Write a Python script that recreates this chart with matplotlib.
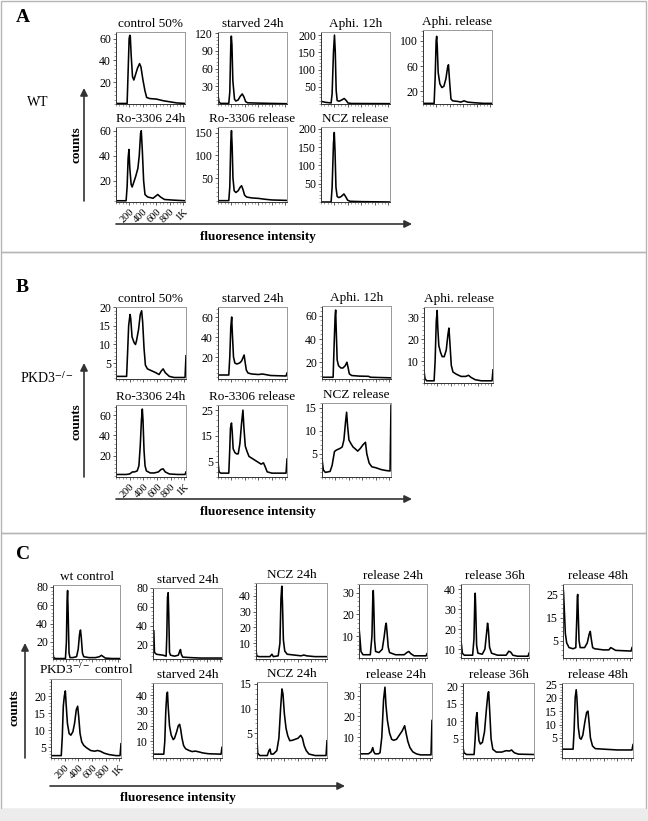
import matplotlib
matplotlib.use('Agg')
import matplotlib.pyplot as plt
from matplotlib.patches import Rectangle, FancyArrowPatch
from matplotlib.ticker import MultipleLocator, AutoMinorLocator

plt.rcParams['font.family'] = ['Liberation Serif', 'DejaVu Serif']
plt.rcParams['mathtext.fontset'] = 'stix'

# ---- histogram data: (fluorescence, counts) ----
# panel A, WT
a_control = [(0, 0.5), (165, 0.5), (180, 30), (195, 60), (205, 63), (212, 62), (225, 45), (245, 25), (265, 22),
             (290, 27), (320, 33), (350, 37), (370, 34), (400, 22), (430, 12), (455, 6), (500, 5), (600, 4.5),
             (700, 3), (800, 2), (900, 1), (1024, 0.5)]
a_starved = [(0, 15), (15, 3), (40, 1), (160, 1), (175, 20), (190, 100), (198, 115), (207, 100), (220, 40),
             (245, 8), (265, 5), (300, 7), (330, 13), (360, 17), (385, 12), (410, 4), (440, 2), (600, 1.5),
             (800, 1), (1024, 0.5)]
a_aphi = [(0, 8), (60, 5), (150, 3), (165, 30), (185, 150), (200, 200), (212, 150), (225, 40), (240, 10),
          (270, 8), (310, 12), (345, 16), (375, 10), (400, 3), (450, 1.5), (1024, 1)]
a_aphi_rel = [(0, 1), (165, 1), (180, 40), (195, 100), (203, 107), (212, 90), (225, 50), (250, 32), (280, 26),
              (310, 28), (340, 40), (365, 58), (378, 62), (395, 35), (415, 8), (440, 5), (520, 4), (560, 3),
              (610, 5), (660, 3), (760, 2), (900, 1), (1024, 1)]
a_ro = [(0, 4), (150, 4), (165, 15), (180, 38), (192, 45), (205, 30), (225, 17), (240, 15), (265, 19), (295, 24),
        (325, 30), (345, 40), (365, 58), (375, 60), (390, 45), (410, 20), (430, 9), (470, 7), (550, 6), (620, 9),
        (660, 7), (720, 5), (850, 4.5), (1024, 4)]
a_ro_rel = [(0, 0), (160, 0), (175, 30), (190, 130), (200, 155), (210, 120), (222, 50), (240, 22), (265, 18),
            (300, 22), (330, 30), (350, 33), (370, 25), (395, 12), (425, 8), (500, 6), (600, 5), (700, 3),
            (800, 1.5), (1024, 0.5)]
a_ncz_rel = [(0, 0), (150, 0), (165, 40), (185, 160), (197, 190), (208, 140), (222, 40), (240, 15), (265, 12),
             (300, 15), (340, 22), (365, 15), (395, 5), (430, 2), (600, 1), (1024, 0)]

# panel B, PKD3-/-
b_control = [(0, 1.5), (155, 1.5), (170, 8), (185, 15), (205, 18), (215, 17), (235, 12), (265, 10.5), (285, 10),
             (300, 11), (330, 14), (355, 18), (375, 19), (390, 16), (410, 9), (430, 4.5), (460, 3.5), (520, 3),
             (580, 2.5), (630, 2), (665, 3), (690, 3.5), (720, 2.5), (780, 1.5), (850, 1.2), (1010, 1.2),
             (1024, 7)]
b_starved = [(0, 2), (160, 2), (175, 20), (190, 50), (203, 60), (212, 45), (230, 20), (250, 14), (280, 13),
             (320, 14), (350, 16), (375, 20), (388, 22), (400, 16), (420, 7), (445, 4), (500, 3), (600, 2.5),
             (660, 3), (700, 2.5), (780, 1.5), (1010, 1), (1024, 4)]
b_aphi = [(0, 7), (165, 7), (180, 35), (195, 60), (203, 65), (210, 50), (225, 22), (245, 17), (280, 15),
          (310, 15), (345, 17), (370, 20), (385, 16), (405, 10), (440, 8.5), (550, 8), (690, 7.8), (720, 7),
          (1024, 6.5)]
b_aphi_rel = [(0, 5.5), (15, 2), (40, 1), (150, 1), (165, 10), (182, 28), (195, 33), (205, 25), (220, 17),
              (245, 14), (270, 12), (300, 12), (330, 15), (355, 22), (370, 25), (385, 18), (405, 8), (430, 5),
              (480, 4), (550, 3), (620, 3), (660, 3.5), (700, 2.5), (760, 1.5), (850, 1), (1010, 1), (1024, 6)]
b_ro = [(0, 1.5), (150, 1.5), (200, 2), (240, 4), (270, 4), (310, 5), (335, 10), (355, 30), (372, 55), (385, 66),
        (395, 55), (410, 25), (425, 10), (445, 5), (500, 3), (560, 3), (620, 4), (660, 6.5), (690, 7), (720, 4),
        (780, 2), (900, 1.5), (1010, 1.5), (1024, 4)]
b_ro_rel = [(0, 5), (15, 1), (40, 0.5), (160, 0.5), (172, 8), (185, 18), (200, 20), (210, 17), (225, 10),
            (250, 8.5), (275, 8), (300, 8), (325, 12), (350, 20), (370, 25), (385, 18), (405, 11), (430, 9),
            (460, 7), (520, 6), (580, 5), (640, 4), (675, 4.5), (700, 3), (730, 1), (800, 0.5), (1010, 0.5),
            (1024, 6)]
b_ncz_rel = [(0, 4), (20, 1.5), (50, 1), (120, 1.2), (150, 2.5), (185, 5.5), (210, 5.8), (240, 6), (270, 6.2),
             (300, 6.5), (325, 8), (350, 12), (365, 14), (380, 11), (400, 8), (430, 7.2), (460, 6.5), (500, 6),
             (530, 5.6), (570, 6.2), (610, 7), (645, 7.5), (665, 5), (700, 3), (740, 2.2), (800, 2), (880, 1.6),
             (950, 1.4), (1010, 1.3), (1024, 15.5)]

# panel C, wt (top row) and PKD3-/- (bottom row)
c_wt_control = [(0, 8), (10, 3), (40, 2), (190, 2), (205, 20), (215, 65), (223, 76), (232, 50), (245, 8),
                (260, 3), (300, 3), (360, 4), (385, 12), (405, 28), (420, 33), (432, 25), (450, 8), (470, 4),
                (550, 3), (650, 3), (710, 4), (740, 5.5), (770, 4), (800, 2.5), (900, 2), (1024, 2)]
c_wt_starved = [(0, 35), (12, 35), (22, 12), (50, 10), (150, 9), (195, 8), (205, 30), (215, 70), (225, 75),
                (233, 55), (245, 12), (260, 9), (320, 8), (375, 9), (395, 13), (408, 15), (420, 10), (440, 7),
                (550, 6.5), (700, 6), (1024, 6)]
c_wt_ncz = [(0, 6), (10, 2), (40, 1.5), (200, 1.5), (230, 3), (250, 1.5), (320, 2), (345, 10), (360, 38),
            (372, 46), (382, 35), (395, 12), (415, 5), (450, 3), (550, 2.5), (650, 2), (690, 2.5), (730, 2),
            (850, 1.5), (1024, 1.5)]
c_wt_rel24 = [(0, 14), (12, 10), (30, 3), (60, 1.5), (170, 1.5), (195, 10), (208, 28), (215, 31), (222, 25),
              (235, 8), (250, 3), (300, 2.5), (350, 4), (380, 10), (400, 15), (410, 16), (422, 12), (440, 5),
              (460, 2.5), (550, 1.5), (680, 1.5), (720, 2.5), (750, 3), (780, 2), (830, 1), (1010, 1), (1024, 2)]
c_wt_rel36 = [(0, 14), (8, 12), (20, 8), (50, 7), (175, 7), (195, 15), (208, 35), (214, 38), (222, 30),
              (235, 12), (255, 8), (320, 7.5), (360, 10), (385, 18), (400, 23), (412, 20), (430, 11), (460, 8),
              (550, 7), (680, 7), (720, 9), (750, 8.5), (780, 7), (850, 6.5), (1010, 6.5), (1024, 8)]
c_wt_rel48 = [(0, 28), (8, 26), (20, 18), (35, 8), (55, 4), (90, 2), (150, 1.5), (190, 2), (205, 15), (213, 24),
              (218, 25), (225, 18), (238, 5), (255, 2), (320, 2), (360, 4), (390, 8), (405, 9), (418, 6),
              (440, 2), (470, 1.5), (600, 1), (680, 1), (710, 2), (740, 1.5), (780, 0.8), (1010, 0.5), (1024, 2)]
c_ko_control = [(0, 2.5), (150, 2.5), (165, 8), (180, 17), (195, 20), (210, 21.5), (220, 18), (240, 12),
                (265, 9), (290, 8.5), (320, 9.5), (345, 12), (370, 16), (390, 17), (405, 14), (425, 9),
                (450, 6.5), (480, 5.5), (520, 4.8), (580, 4), (640, 3.8), (680, 4), (720, 3.8), (780, 3.2),
                (850, 2.8), (950, 2.5), (1010, 2.5), (1024, 6)]
c_ko_starved = [(0, 1.5), (160, 1.5), (175, 10), (190, 30), (205, 41), (215, 42), (225, 33), (245, 20),
                (270, 14), (300, 11), (320, 12), (350, 16), (375, 20), (395, 21), (410, 18), (430, 12), (455, 7),
                (485, 5), (530, 4), (580, 3.2), (630, 3.5), (680, 3), (740, 2.3), (820, 1.8), (1010, 1.5),
                (1024, 6)]
c_ko_ncz = [(0, 4), (10, 1), (40, 0.5), (150, 0.5), (175, 1.5), (190, 1.8), (205, 0.8), (240, 0.8), (290, 1.5),
            (320, 4), (345, 10), (365, 14), (380, 13), (400, 9), (425, 6), (450, 4.5), (480, 3.5), (520, 3.6),
            (560, 3.8), (600, 4), (640, 4.6), (665, 4), (690, 2.5), (720, 1.5), (760, 0.8), (850, 0.5),
            (1010, 0.5), (1024, 3.5)]
c_ko_rel24 = [(0, 2), (120, 2), (160, 3), (181, 5), (195, 3), (214, 2), (260, 2), (285, 2.5), (310, 10),
              (335, 28), (355, 34), (370, 25), (390, 18), (420, 12), (450, 9), (480, 8.5), (520, 9), (560, 11),
              (600, 13), (635, 15.5), (655, 12), (680, 8), (710, 5), (750, 3), (800, 2), (860, 1.5),
              (1010, 1.5), (1024, 18)]
c_ko_rel36 = [(0, 2.5), (15, 1), (50, 0.5), (160, 0.5), (175, 5), (190, 11), (202, 12.5), (212, 9), (230, 4.5),
              (250, 3.5), (280, 4), (310, 7), (340, 14), (360, 18), (370, 18.5), (385, 13), (405, 5), (430, 2),
              (480, 1.2), (560, 1.2), (620, 1.6), (670, 1.5), (700, 1.8), (740, 1), (800, 0.6), (1024, 0.5)]
c_ko_rel48 = [(0, 0.8), (160, 0.8), (175, 8), (190, 20), (205, 23), (215, 20), (235, 9), (255, 5), (275, 4.5),
              (300, 6), (330, 11), (355, 14.5), (375, 15), (390, 11), (410, 5), (440, 2), (480, 1), (600, 0.8),
              (800, 0.5), (1010, 0.5), (1024, 2.5)]

x_tick_vals = [200, 400, 600, 800, 1000]
x_tick_text = ['200', '400', '600', '800', '1K']

W, H = 648, 821


def fx(x):
    return x / W


def fy(y):
    return 1 - y / H


def draw_hist(fig, box, pts, title, ylim, yticks, xlabels=False):
    l, t, r, b = box
    ax = fig.add_axes([fx(l), fy(b), (r - l) / W, (b - t) / H])
    xs = [p[0] for p in pts]
    ys = [p[1] for p in pts]
    ax.plot(xs, ys, color='black', lw=1.15, solid_joinstyle='round')
    ax.set_xlim(0, 1024)
    ax.set_ylim(*ylim)
    ax.set_yticks(yticks)
    ax.yaxis.set_minor_locator(AutoMinorLocator(5))
    ax.set_xticks(x_tick_vals)
    ax.xaxis.set_minor_locator(MultipleLocator(50))
    ax.tick_params(axis='both', which='major', length=2.5, width=0.6, color='#444444',
                   labelsize=8.5, pad=1)
    ax.tick_params(axis='both', which='minor', length=1.2, width=0.5, color='#777777')
    if xlabels:
        ax.set_xticklabels(x_tick_text, rotation=45, ha='right', rotation_mode='anchor', fontsize=7.5)
    else:
        ax.set_xticklabels([])
    for side in ['left', 'bottom']:
        ax.spines[side].set_color('#333333')
        ax.spines[side].set_linewidth(0.7)
    for side in ['top', 'right']:
        ax.spines[side].set_color('#999999')
        ax.spines[side].set_linewidth(0.7)
    ax.set_title(title, fontsize=9.5, pad=3.5)
    return ax


def arrow(fig, p0, p1):
    fig.add_artist(FancyArrowPatch((fx(p0[0]), fy(p0[1])), (fx(p1[0]), fy(p1[1])),
                                   transform=fig.transFigure, arrowstyle='-|>', mutation_scale=11,
                                   lw=1.2, color='#333333', shrinkA=0, shrinkB=0))


fig = plt.figure(figsize=(W / 100, H / 100), dpi=100)

# panel frames
for top, bot in [(1, 252), (252, 533), (533, 809)]:
    fig.add_artist(Rectangle((fx(1), fy(bot)), (646 - 1) / W, (bot - top) / H, transform=fig.transFigure,
                             fill=False, edgecolor='#b5b5b5', lw=1.0))
fig.add_artist(Rectangle((0, 0), 1, fy(809), transform=fig.transFigure, facecolor='#ececec',
                         edgecolor='none'))

# ---- panel A ----
draw_hist(fig, (116, 32, 185, 104), a_control, 'control 50%', (0, 66), [20, 40, 60])
draw_hist(fig, (218, 32, 287, 104), a_starved, 'starved 24h', (0, 122), [30, 60, 90, 120])
draw_hist(fig, (321, 32, 390, 104), a_aphi, 'Aphi. 12h', (0, 209), [50, 100, 150, 200])
draw_hist(fig, (423, 30, 492, 104), a_aphi_rel, 'Aphi. release', (0, 117), [20, 60, 100])
draw_hist(fig, (116, 127, 185, 202), a_ro, 'Ro-3306 24h', (3, 63), [20, 40, 60], xlabels=True)
draw_hist(fig, (218, 127, 287, 202), a_ro_rel, 'Ro-3306 release', (-3, 163), [50, 100, 150])
draw_hist(fig, (321, 127, 390, 202), a_ncz_rel, 'NCZ release', (0, 205), [50, 100, 150, 200])

# ---- panel B ----
draw_hist(fig, (116, 307, 186, 379), b_control, 'control 50%', (0.8, 20), [5, 10, 15, 20])
draw_hist(fig, (218, 307, 287, 379), b_starved, 'starved 24h', (-2, 70), [20, 40, 60])
draw_hist(fig, (322, 306, 391, 379), b_aphi, 'Aphi. 12h', (5.5, 68.5), [20, 40, 60])
draw_hist(fig, (424, 307, 493, 383), b_aphi_rel, 'Aphi. release', (0, 34.6), [10, 20, 30])
draw_hist(fig, (116, 405, 186, 477), b_ro, 'Ro-3306 24h', (-1, 70), [20, 40, 60], xlabels=True)
draw_hist(fig, (218, 405, 287, 477), b_ro_rel, 'Ro-3306 release', (-1, 27), [5, 15, 25])
draw_hist(fig, (322, 403, 391, 477), b_ncz_rel, 'NCZ release', (0, 16), [5, 10, 15])

# ---- panel C ----
draw_hist(fig, (53, 585, 120, 659), c_wt_control, 'wt control', (1.5, 82), [20, 40, 60, 80])
draw_hist(fig, (153, 588, 222, 659), c_wt_starved, 'starved 24h', (5, 80), [20, 40, 60, 80])
draw_hist(fig, (256, 583, 327, 659), c_wt_ncz, 'NCZ 24h', (0, 48), [10, 20, 30, 40])
draw_hist(fig, (359, 584, 427, 658), c_wt_rel24, 'release 24h', (0, 34), [10, 20, 30])
draw_hist(fig, (461, 584, 529, 658), c_wt_rel36, 'release 36h', (5.6, 42.6), [10, 20, 30, 40])
draw_hist(fig, (563, 584, 632, 658), c_wt_rel48, 'release 48h', (-2.5, 29.5), [5, 15, 25])
draw_hist(fig, (51, 679, 121, 758), c_ko_control, 'PKD3$^{-/-}$ control', (1.8, 25), [5, 10, 15, 20],
          xlabels=True)
draw_hist(fig, (153, 683, 222, 758), c_ko_starved, 'starved 24h', (-1, 48), [10, 20, 30, 40])
draw_hist(fig, (257, 682, 327, 758), c_ko_ncz, 'NCZ 24h', (0, 15.4), [5, 10, 15])
draw_hist(fig, (360, 683, 432, 758), c_ko_rel24, 'release 24h', (0, 36), [10, 20, 30])
draw_hist(fig, (463, 683, 534, 758), c_ko_rel36, 'release 36h', (-0.5, 21), [5, 10, 15, 20])
draw_hist(fig, (562, 683, 633, 758), c_ko_rel48, 'release 48h', (-2.5, 25.5), [5, 10, 15, 20, 25])

# ---- labels and arrows ----
for letter, y in [('A', 18), ('B', 287), ('C', 554)]:
    fig.text(fx(16), fy(y), letter, fontsize=14, fontweight='bold', va='center', ha='left')

fig.text(fx(27), fy(103), 'WT', fontsize=10, va='center', ha='left')
fig.text(fx(20), fy(378), 'PKD3$^{-/-}$', fontsize=10, va='center', ha='left')

for cx, cy in [(76, 145), (76, 422), (15, 708)]:
    fig.text(fx(cx), fy(cy), 'counts', fontsize=9.5, fontweight='bold', rotation=90, va='center', ha='center')

arrow(fig, (84, 201), (84, 88))
arrow(fig, (84, 477), (84, 363))
arrow(fig, (25, 758), (25, 643))

arrow(fig, (116, 224), (412, 224))
arrow(fig, (116, 499), (412, 499))
arrow(fig, (50, 786), (345, 786))

for cx, cy in [(258, 237), (258, 512), (178, 798)]:
    fig.text(fx(cx), fy(cy), 'fluoresence intensity', fontsize=9.5, fontweight='bold', va='center',
             ha='center')

fig.savefig('out.png', dpi=100)
